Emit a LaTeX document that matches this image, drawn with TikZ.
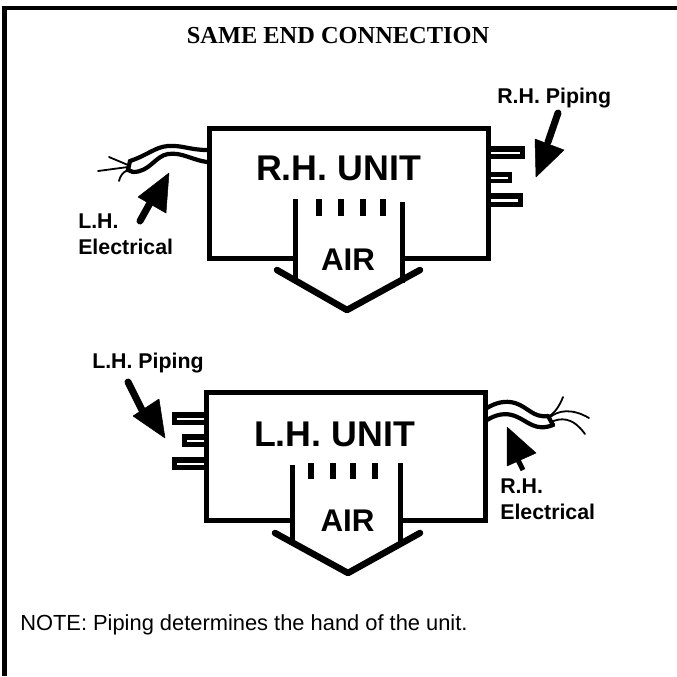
\documentclass[tikz,border=0pt]{standalone}
\usepackage{fontspec}
\setmainfont{Liberation Sans}
\newfontfamily\titlefont{Liberation Serif}
\tikzset{
  x=0.75pt,y=-0.75pt,
  px/.style={line width=#1*0.75pt},
  heavy/.style={draw=black,px=5,line cap=butt,line join=miter},
  chev/.style={draw=black,px=6.5,line cap=round,line join=round},
  tick/.style={draw=black,px=5.5},
  pipe/.style={draw=black,px=5.5,line join=miter},
  shortpipe/.style={draw=black,px=4.5,line join=miter},
  wire/.style={draw=black,px=4.2,line cap=round},
  strand/.style={draw=black,px=1.8,line cap=round},
  headfill/.style={fill=black,draw=black,px=0.5,line join=round},
  shaft/.style={draw=black,px=7,line cap=round},
  unitlbl/.style={font=\fontsize{26.8}{28}\selectfont\bfseries,inner sep=0,anchor=center},
  airlbl/.style={font=\fontsize{23.5}{25}\selectfont\bfseries,inner sep=0,anchor=center},
  smalllbl/.style={font=\fontsize{16}{18}\selectfont\bfseries,inner sep=0,anchor=base west},
}
\begin{document}
\begin{tikzpicture}
\useasboundingbox (0,0) rectangle (677,676);
\fill[white] (0,0) rectangle (677,676);
% frame
\coordinate (fbl) at (4.5,676);
\coordinate (ftl) at (4.5,8);
\coordinate (ftr) at (677,8);
\draw[draw=black,px=4.5,line join=miter] (fbl) -- (ftl) -- (ftr);
\node[inner sep=0,anchor=base] (title) at (338,43) {\titlefont\bfseries\fontsize{18.3}{20}\selectfont SAME END CONNECTION};
\node[inner sep=0,anchor=base west,font=\fontsize{16.4}{18}\selectfont] (note) at (20,630) {NOTE: Piping determines the hand of the unit.};

% upper unit
\coordinate (a1) at (295.5,258);
\draw[heavy] (a1) -- (209,258) -- (209,128) -- (488,128) -- (488,258) -- (402,258);
\draw[heavy] (295.5,199) -- (295.5,283);
\draw[heavy] (402,202) -- (402,283);
\draw[chev] (277,270) -- (347,310) -- (420,270);
\foreach \x in {319,341,363,383} \draw[tick] (\x,199) -- (\x,216);
\node[unitlbl] (ru) at (338.5,168) {R.H. UNIT};
\node[airlbl] (ra) at (348,260) {AIR};
\draw[pipe] (488,148.75) -- (522.5,148.75) -- (522.5,156.25) -- (488,156.25);
\draw[shortpipe] (488,174.25) -- (510,174.25) -- (510,180.75) -- (488,180.75);
\draw[pipe] (488,195.75) -- (520.5,195.75) -- (520.5,204.25) -- (488,204.25);
% right arrow upper
\draw[shaft] (558,113) -- (548,142);
\fill[headfill] (536,177) -- (535,139) -- (564,150) -- cycle;
\node[smalllbl] (rp) at (497,103) {R.H. Piping};
% left wire upper
\draw[wire] (207,150) .. controls (190,150) and (182,145) .. (168,146) .. controls (155,147) and (148,155) .. (130,161);
\draw[wire] (207,162) .. controls (192,160) and (182,152) .. (168,154) .. controls (155,156) and (150,172) .. (133,172);
\draw[wire] (130,161) -- (128,170) -- (133,172);
\draw[strand] (128,165) -- (109,157);
\draw[strand] (128,167) -- (98,171);
\draw[strand] (128,170) .. controls (123,172) and (120,176) .. (119,181);
% left arrow upper
\draw[shaft] (140,221) -- (150,203);
\fill[headfill] (169,173) -- (138,197) -- (166,213) -- cycle;
\node[smalllbl] (lh) at (78,228) {L.H.};
\node[smalllbl] (le) at (78,254) {Electrical};

% lower unit
\coordinate (b1) at (292,520);
\draw[heavy] (b1) -- (206,520) -- (206,392) -- (485,392) -- (485,520) -- (400,520);
\draw[heavy] (292,465) -- (292,543);
\draw[heavy] (400,463) -- (400,543);
\draw[chev] (275,533) -- (348,573) -- (420,533);
\foreach \x in {311,333,353,375} \draw[tick] (\x,463) -- (\x,479);
\node[unitlbl] (lu) at (334.5,434) {L.H. UNIT};
\node[airlbl] (la) at (347.5,521) {AIR};
\draw[pipe] (206,414.75) -- (174.5,414.75) -- (174.5,422.25) -- (206,422.25);
\draw[pipe] (206,437) -- (184.5,437) -- (184.5,444.5) -- (206,444.5);
\draw[pipe] (206,459.75) -- (174.5,459.75) -- (174.5,467.25) -- (206,467.25);
% arrow lower left
\draw[shaft] (128,382) -- (142,410);
\fill[headfill] (165,438) -- (159,399) -- (133,416) -- cycle;
\node[smalllbl] (lp) at (92,368) {L.H. Piping};
% right wire lower
\draw[wire] (487,408) .. controls (495,403) and (505,400) .. (515,403) .. controls (528,407) and (533,418) .. (548,416);
\draw[wire] (487,420) .. controls (495,415) and (505,412) .. (515,416) .. controls (528,421) and (535,432) .. (553,425);
\draw[wire] (548,416) -- (553,425);
\draw[strand] (548,417) .. controls (555,413) and (560,405) .. (563,397);
\draw[strand] (549,418) .. controls (558,410) and (572,408) .. (589,418);
\draw[strand] (551,422) .. controls (560,418) and (572,416) .. (585,434);
% arrow lower right
\draw[draw=black,px=5] (518,460) -- (523,470);
\fill[headfill] (507,427) -- (536,453) -- (507,466) -- cycle;
\node[smalllbl] (rh) at (500,493) {R.H.};
\node[smalllbl] (re) at (500,519) {Electrical};
\end{tikzpicture}
\end{document}
